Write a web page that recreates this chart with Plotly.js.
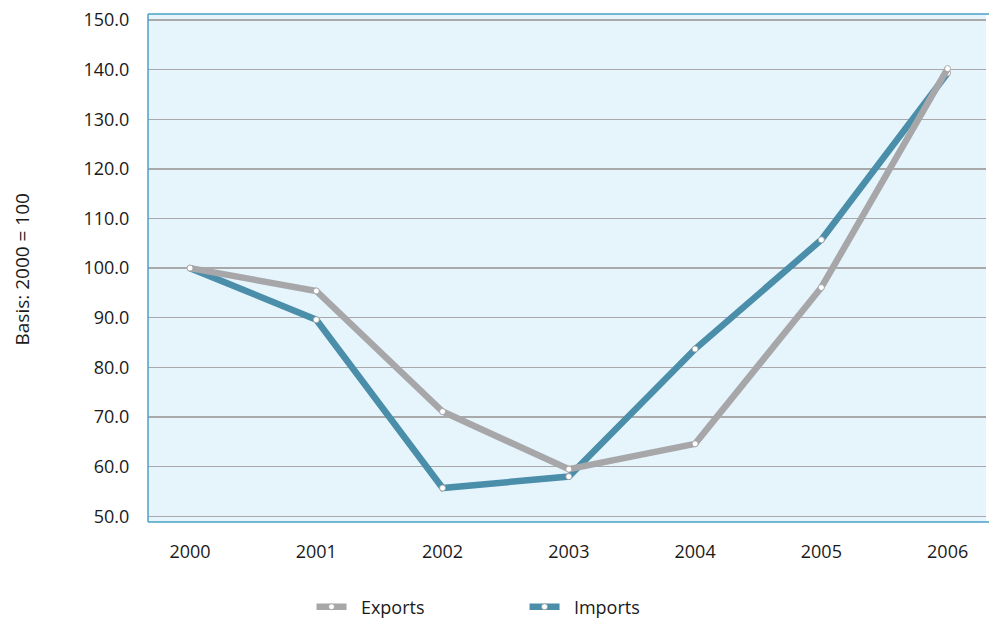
<!DOCTYPE html>
<html>
<head>
<meta charset="utf-8">
<script src="https://cdn.plot.ly/plotly-3.0.1.min.js"></script>
<style>html,body{margin:0;padding:0;background:#fff;}#chart{width:989px;height:622px;}</style>
</head>
<body>
<div id="chart"></div>
<script>
const years = [2000, 2001, 2002, 2003, 2004, 2005, 2006];
const yearLabels = ["2000", "2001", "2002", "2003", "2004", "2005", "2006"];
const exportsVals = [100.0, 95.4, 71.1, 59.5, 64.6, 96.1, 140.2];
const importsVals = [100.0, 89.6, 55.7, 58.0, 83.7, 105.7, 139.3];
const yTicks = [50, 60, 70, 80, 90, 100, 110, 120, 130, 140, 150];
const yTitle = 'Basis: 2000 = 100';

const font = "'Open Sans', 'Noto Sans', sans-serif";
const marker = {symbol: 'circle', size: 6, color: '#ffffff', line: {color: '#9a9a9a', width: 0.8}};

const traces = [
  {x: years, y: importsVals, name: '\u00a0\u00a0Imports', type: 'scatter', mode: 'lines+markers',
   line: {color: '#4a8eaa', width: 6.5}, marker: marker, legendrank: 2},
  {x: years, y: exportsVals, name: '\u00a0\u00a0Exports', type: 'scatter', mode: 'lines+markers',
   line: {color: '#a7a7aa', width: 6.5}, marker: marker, legendrank: 1}
];

const layout = {
  width: 989, height: 622,
  margin: {l: 148, r: 3.3, t: 14, b: 100, autoexpand: false},
  paper_bgcolor: '#ffffff',
  plot_bgcolor: '#e6f4fc',
  font: {family: font, size: 18, color: '#1a1a1a'},
  showlegend: true,
  legend: {orientation: 'h', xref: 'container', x: 0.315, xanchor: 'left',
           yref: 'container', y: 0.024, yanchor: 'middle',
           entrywidth: 168, font: {family: font, size: 18, color: '#1a1a1a'}},
  xaxis: {type: 'linear', range: [1999.667, 2006.304], tickvals: years, ticktext: yearLabels,
          showgrid: false, zeroline: false, showline: false,
          ticks: 'outside', ticklen: 13, tickcolor: 'rgba(0,0,0,0)',
          tickfont: {family: font, size: 18, color: '#1a1a1a'}},
  yaxis: {range: [48.85, 151.2], tickvals: yTicks, ticktext: yTicks.map(v => v.toFixed(1)),
          showgrid: true, gridcolor: '#a9a9ab', gridwidth: 1.3, zeroline: false, showline: false,
          ticks: 'outside', ticklen: 14, tickcolor: 'rgba(0,0,0,0)',
          tickfont: {family: font, size: 18, color: '#1a1a1a'}},
  annotations: [
    {text: yTitle, xref: 'paper', yref: 'paper', x: -0.1504, y: 0.497, xanchor: 'center', yanchor: 'middle',
     textangle: -90, showarrow: false, font: {family: font, size: 19, color: '#1a1a1a'}}
  ],
  shapes: [
    {type: 'line', xref: 'paper', yref: 'paper', x0: 0, x1: 1.005, y0: 1, y1: 1, line: {color: '#4aa0c4', width: 1.5}},
    {type: 'line', xref: 'paper', yref: 'paper', x0: 0, x1: 1.005, y0: 0, y1: 0, line: {color: '#4aa0c4', width: 1.5}},
    {type: 'line', xref: 'paper', yref: 'paper', x0: 0, x1: 0, y0: 0, y1: 1, line: {color: '#4aa0c4', width: 1.5}}
  ]
};

Plotly.newPlot('chart', traces, layout, {displayModeBar: false, staticPlot: true});
</script>
</body>
</html>
